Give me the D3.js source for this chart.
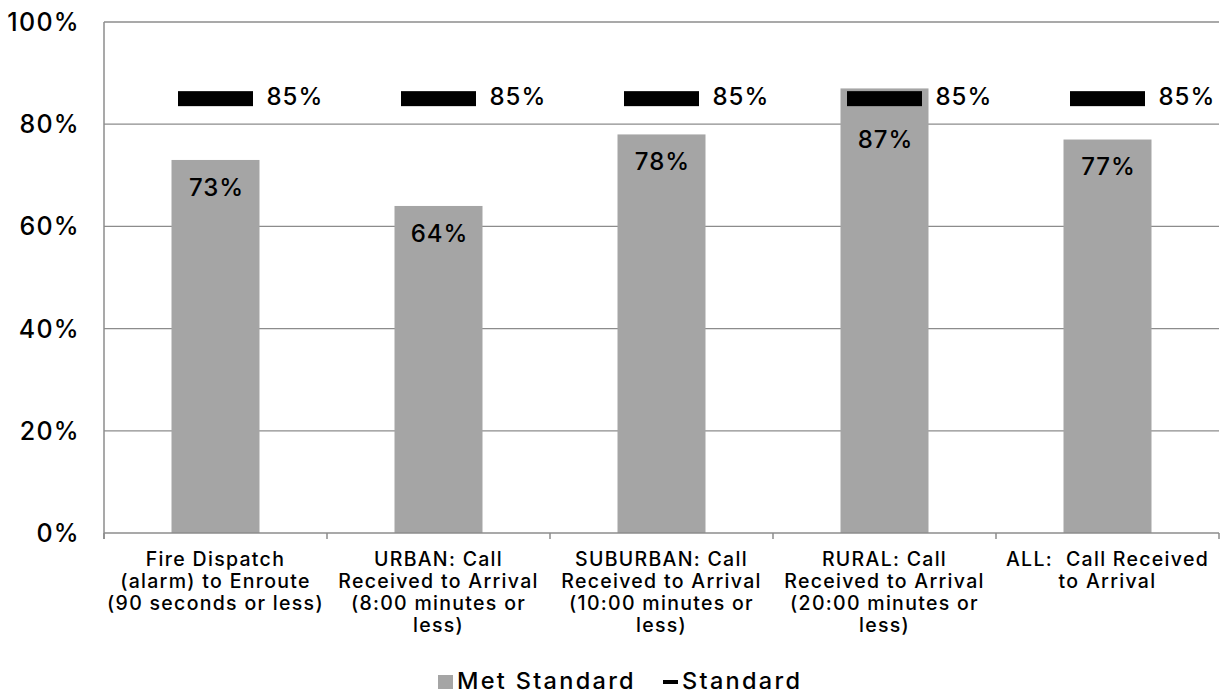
<!DOCTYPE html>
<html>
<head>
<meta charset="utf-8">
<script src="https://cdn.jsdelivr.net/npm/d3@7"></script>
<style>
  body { margin: 0; background: #fff; }
  text { font-family: Inter, "Open Sans", sans-serif; fill: #000; font-weight: 500; white-space: pre; }
</style>
</head>
<body>
<svg id="chart" width="1222" height="696"></svg>
<script>
// categories (one array of lines per category)
const categories = [
  ["Fire Dispatch", "(alarm) to Enroute", "(90 seconds or less)"],
  ["URBAN: Call", "Received to Arrival", "(8:00 minutes or", "less)"],
  ["SUBURBAN: Call", "Received to Arrival", "(10:00 minutes or", "less)"],
  ["RURAL: Call", "Received to Arrival", "(20:00 minutes or", "less)"],
  ["ALL:  Call Received", "to Arrival"]
];
const metStandard = [73, 64, 78, 87, 77];
const standard = [85, 85, 85, 85, 85];
const yTicks = [0, 20, 40, 60, 80, 100];

const barColor = "#a5a5a5";
const gridColor = "#8c8c8c";
const margin = { top: 22, right: 3, bottom: 163, left: 104 };
const width = 1222 - margin.left - margin.right;
const height = 696 - margin.top - margin.bottom;

const svg = d3.select("#chart");
const g = svg.append("g")
  .attr("transform", `translate(${margin.left},${margin.top})`);

const keys = categories.map((d, i) => i);
const x = d3.scaleBand().domain(keys).range([0, width]);
const y = d3.scaleLinear().domain([0, 100]).range([height, 0]);
const cx = i => x(i) + x.bandwidth() / 2;

// gridlines
g.append("g")
  .selectAll("line")
  .data(yTicks.filter(d => d > 0))
  .join("line")
  .attr("x1", 0).attr("x2", width)
  .attr("y1", d => y(d)).attr("y2", d => y(d))
  .attr("stroke", gridColor).attr("stroke-width", 1.3);

// y axis labels
g.append("g")
  .selectAll("text")
  .data(yTicks)
  .join("text")
  .attr("x", -24)
  .attr("y", d => y(d))
  .attr("dy", "0.36em")
  .attr("text-anchor", "end")
  .style("font-size", "25px")
  .style("letter-spacing", "1.3px")
  .text(d => d + "%");

// bars
g.append("g")
  .selectAll("rect")
  .data(metStandard)
  .join("rect")
  .attr("x", (d, i) => cx(i) - 44)
  .attr("width", 88)
  .attr("y", d => y(d))
  .attr("height", d => height - y(d))
  .attr("fill", barColor);

// bar labels
g.append("g")
  .selectAll("text")
  .data(metStandard)
  .join("text")
  .attr("x", (d, i) => cx(i) + 1)
  .attr("y", d => y(d) + (d > 85 ? 51 : 27))
  .attr("dy", "0.36em")
  .attr("text-anchor", "middle")
  .style("font-size", "24px")
  .style("letter-spacing", "1px")
  .text(d => d + "%");

// axes lines
g.append("line")
  .attr("x1", 0).attr("x2", 0).attr("y1", 0).attr("y2", height + 6)
  .attr("stroke", gridColor).attr("stroke-width", 1.5);
g.append("line")
  .attr("x1", 0).attr("x2", width).attr("y1", height).attr("y2", height)
  .attr("stroke", gridColor).attr("stroke-width", 1.5);
g.append("g")
  .selectAll("line")
  .data(keys.concat([keys.length]))
  .join("line")
  .attr("x1", d => d * x.step()).attr("x2", d => d * x.step())
  .attr("y1", height).attr("y2", height + 6)
  .attr("stroke", gridColor).attr("stroke-width", 1.5);

// standard markers
g.append("g")
  .selectAll("rect")
  .data(standard)
  .join("rect")
  .attr("x", (d, i) => cx(i) - 37.5)
  .attr("width", 75)
  .attr("y", d => y(d) - 7.5)
  .attr("height", 15)
  .attr("fill", "#000");

g.append("g")
  .selectAll("text")
  .data(standard)
  .join("text")
  .attr("x", (d, i) => cx(i) + 51)
  .attr("y", d => y(d) - 2)
  .attr("dy", "0.36em")
  .style("font-size", "24px")
  .style("letter-spacing", "1px")
  .text(d => d + "%");

// category labels
const cat = g.append("g")
  .selectAll("text")
  .data(categories)
  .join("text")
  .attr("x", (d, i) => cx(i))
  .attr("y", height + 33)
  .attr("text-anchor", "middle")
  .style("font-size", "19.5px")
  .style("letter-spacing", "1.3px");
cat.selectAll("tspan")
  .data(d => d)
  .join("tspan")
  .attr("x", function () { return +d3.select(this.parentNode).attr("x"); })
  .attr("dy", (d, i) => i === 0 ? 0 : 22)
  .text(d => d);

// legend
const legend = svg.append("g");
legend.append("rect")
  .attr("x", 438).attr("y", 675).attr("width", 15).attr("height", 14)
  .attr("fill", barColor);
legend.append("text")
  .attr("x", 457).attr("y", 689)
  .style("font-size", "23.5px")
  .style("letter-spacing", "2.3px")
  .text("Met Standard");
legend.append("rect")
  .attr("x", 663).attr("y", 680).attr("width", 15).attr("height", 4)
  .attr("fill", "#000");
legend.append("text")
  .attr("x", 682).attr("y", 689)
  .style("font-size", "23.5px")
  .style("letter-spacing", "2.3px")
  .text("Standard");
</script>
</body>
</html>
